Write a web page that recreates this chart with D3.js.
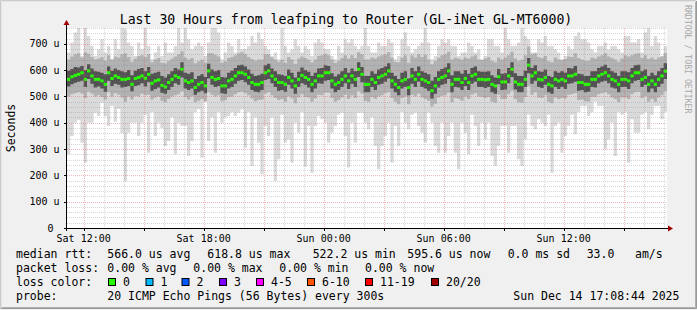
<!DOCTYPE html>
<html>
<meta charset="utf-8">
<title>Last 30 Hours from leafping to Router</title>
<script src="https://d3js.org/d3.v7.min.js"></script>
<style>
	body { margin: 0; background: #f0f0f0; }
	svg text { font-family: "DejaVu Sans Mono", monospace; fill: #000; }
</style>
<body>
<svg id="chart" width="697" height="310"></svg>

<script type="text/javascript">

/** DATA : 10 minute bins, Sat 11:10 -> Sun 17:10, values in microseconds **/

	var median = [565,575,580,584,590,565,597,578,565,565,559,546,590,568,578,572,565,565,568,546,568,572,578,569,584,550,559,563,542,536,
		553,565,578,572,603,559,553,559,534,546,553,540,597,572,565,568,540,540,559,565,578,590,590,584,572,553,546,546,553,590,
		597,578,565,553,553,546,572,559,540,565,580,572,565,546,559,578,578,590,590,559,546,553,565,578,559,578,565,603,584,546,
		546,565,553,572,578,584,597,559,546,534,559,565,534,578,565,584,565,559,553,522,540,565,572,578,597,546,565,565,553,568,
		553,578,584,565,565,563,565,546,540,575,555,555,578,603,555,546,546,565,619,578,590,565,563,572,546,540,565,559,565,559,
		578,578,584,553,553,546,546,565,565,578,584,590,578,565,559,546,565,565,559,578,590,590,565,572,546,559,546,565,578,596];

	var maxRtt = [667,705,743,760,654,760,730,692,654,679,717,667,692,641,717,679,760,755,705,692,654,705,679,760,692,641,667,692,654,705,
		667,667,692,760,705,760,717,679,692,705,692,654,705,760,760,743,641,667,705,692,667,717,679,679,692,730,705,743,717,692,
		679,654,667,641,760,692,667,679,717,692,667,692,679,654,705,717,705,679,679,654,641,692,667,717,705,717,692,679,692,760,
		692,667,667,705,692,692,717,705,641,654,717,743,692,667,679,692,705,760,705,641,654,692,717,705,717,692,692,654,667,667,
		705,692,667,679,641,654,717,717,692,692,667,760,717,692,692,705,760,730,717,667,667,717,705,730,692,692,679,667,641,654,
		692,679,730,743,717,717,705,679,667,692,692,705,679,692,692,679,667,730,730,705,705,717,667,743,760,692,730,705,654,692];

	var minRtt = [280,350,400,410,324,248,400,400,438,426,476,426,388,464,404,452,360,179,362,400,400,350,400,430,286,440,350,400,380,312,
		331,420,280,400,388,388,274,330,440,451,267,480,331,420,286,440,400,420,426,440,426,438,450,305,440,236,420,324,204,388,
		350,420,179,261,430,324,336,248,400,362,440,233,388,210,388,426,413,400,324,362,388,430,438,350,230,400,324,438,438,400,
		375,420,312,223,312,350,400,248,388,312,440,400,375,430,438,388,362,324,438,400,312,286,400,286,350,400,286,223,400,362,
		280,430,388,312,400,337,400,274,236,312,388,388,286,388,388,261,236,337,430,388,375,413,400,388,430,210,388,400,286,350,
		388,430,356,440,464,464,426,440,480,464,464,299,337,400,274,440,430,440,248,413,362,362,430,440,375,430,464,464,413,440];

	var p90 = [640,652,660,664,648,668,662,650,640,644,650,636,656,640,652,648,660,664,650,632,644,654,656,650,660,630,640,646,628,626,
		636,644,652,660,672,648,640,646,626,634,640,628,664,664,658,652,628,634,646,650,656,664,668,660,650,642,636,640,640,660,
		660,648,640,632,640,628,650,640,624,644,652,646,640,630,640,654,656,662,656,640,628,636,646,656,644,656,646,668,660,640,
		640,648,644,652,656,660,668,648,632,630,648,656,628,656,648,660,650,658,640,622,636,648,656,660,670,640,648,644,640,648,
		644,652,656,640,638,644,650,636,630,648,640,648,656,670,644,636,640,656,690,660,664,650,646,654,634,630,648,640,638,642,
		652,650,664,646,640,636,636,648,644,652,656,664,652,646,640,632,644,656,652,656,662,664,646,656,642,648,640,648,652,664];

	var p10 = [500,508,512,516,510,494,518,510,500,504,498,488,516,500,512,506,496,480,500,488,502,500,510,504,506,488,496,500,484,478,
		490,500,504,508,520,498,488,500,478,484,490,482,516,506,500,504,482,486,498,500,508,516,518,512,504,492,482,486,488,510,
		516,504,494,486,490,480,500,492,474,496,508,498,496,480,492,506,504,514,514,494,480,486,496,506,490,504,494,520,510,484,
		480,498,490,500,504,512,516,494,480,470,494,500,470,506,500,510,496,490,484,462,472,496,502,504,514,478,494,490,484,500,
		490,506,512,500,498,494,498,480,476,506,490,490,508,522,490,478,476,498,540,506,516,496,494,504,480,474,496,490,494,492,
		506,508,512,486,488,482,480,498,498,508,512,516,508,496,490,478,496,496,490,508,516,518,494,502,480,490,480,496,504,520];

	var p75 = [598,604,612,610,616,600,622,606,596,594,590,584,614,598,606,600,596,592,600,580,598,604,608,596,612,586,590,594,578,572,
		584,596,608,602,630,590,586,592,566,578,584,574,624,602,596,600,574,572,590,598,608,618,620,614,602,586,578,580,586,618,
		624,606,596,584,582,578,602,590,572,594,610,600,594,578,590,606,608,618,616,588,576,584,596,608,590,606,596,630,612,578,
		578,596,586,602,608,614,626,590,578,566,590,596,568,608,596,614,596,590,584,560,574,596,604,610,626,580,596,596,586,600,
		586,608,614,596,594,594,596,580,572,604,586,588,608,630,588,578,578,598,646,608,618,596,594,602,578,574,596,590,596,590,
		608,606,616,586,584,578,578,596,596,608,614,620,608,596,590,578,596,596,592,608,618,620,596,602,578,590,580,596,608,626];

	var p25 = [538,546,552,556,560,536,566,548,534,538,530,518,560,540,548,544,534,536,540,520,540,542,550,538,554,522,528,534,514,510,
		524,536,550,544,572,530,524,530,506,516,522,512,568,544,536,540,512,510,530,536,548,560,562,554,544,524,518,516,524,562,
		566,550,536,522,524,518,544,530,510,536,550,544,534,516,530,550,548,560,562,530,516,524,536,550,528,548,536,574,554,516,
		516,536,524,544,548,556,568,530,516,504,530,536,504,548,536,556,536,530,522,492,510,534,544,548,566,516,536,534,524,540,
		524,548,556,536,536,532,536,516,510,546,524,526,550,574,526,516,516,536,588,548,560,536,532,544,516,510,536,528,536,528,
		548,550,556,522,524,516,518,536,534,550,556,560,550,534,530,516,536,536,528,550,560,562,536,544,516,530,516,536,548,566];

	var yTicks = [0, 100, 200, 300, 400, 500, 600, 700];

	var rttStats = ["566.0 us avg", "618.8 us max", "522.2 us min", "595.6 us now", "0.0 ms sd", "33.0", "am/s"];
	var lossStats = ["0.00 % avg", "0.00 % max", "0.00 % min", "0.00 % now"];
	var lossLabels = ["0", "1", "2", "3", "4-5", "6-10", "11-19", "20/20"];
	var lossColors = ["#26ff00", "#00b8ff", "#0059ff", "#7e00ff", "#ff00ff", "#ff5500", "#ff0000", "#a10000"];

/** LAYOUT **/

	var W = 697, H = 310;
	var plotL = 67, plotR = 667, plotT = 28, plotB = 228;
	var rttX = [107.3, 207.3, 312.7, 407.3, 507.7, 586.7, 635];
	var lossX = [107.3, 193.3, 279.3, 365];
	var boxX = [108.5, 146, 182, 219.5, 256.5, 307.5, 365.5, 431.5];

	var t0 = new Date(2025, 11, 13, 11, 10);
	var t1 = new Date(2025, 11, 14, 17, 10);

	var x = d3.scaleTime().domain([t0, t1]).range([plotL, plotR]);
	var y = d3.scaleLinear().domain([0, 760]).range([plotB, plotT]);

	var bins = median.map(function(d, i) {
		return {t: d3.timeMinute.offset(t0, 10 * i), med: d, lo: minRtt[i], hi: maxRtt[i],
			p10: p10[i], p90: p90[i], p25: p25[i], p75: p75[i]};
	});
	// closing point so the last step reaches the right edge
	var stepBins = bins.concat([Object.assign({}, bins[bins.length - 1], {t: t1})]);

	var svg = d3.select("#chart");

	// background + frame shading
	svg.append("rect").attr("width", W).attr("height", H).attr("fill", "#f0f0f0");
	svg.append("path").attr("d", "M0.5,309V0.5H696").attr("fill", "none").attr("stroke", "#cbcbcb");
	svg.append("path").attr("d", "M1.5,308V1.5H695").attr("fill", "none").attr("stroke", "#e4e4e4");
	svg.append("path").attr("d", "M1,308.5H696.5V1").attr("fill", "none").attr("stroke", "#999999");
	svg.append("path").attr("d", "M2,307.5H695.5V2").attr("fill", "none").attr("stroke", "#b0b0b0");

	// canvas
	svg.append("rect").attr("x", plotL).attr("y", plotT).attr("width", plotR - plotL).attr("height", plotB - plotT)
		.attr("fill", "#ffffff");

	// smoke
	function band(lo, hi) {
		return d3.area().curve(d3.curveStepAfter)
			.x(function(d) { return x(d.t); })
			.y0(function(d) { return y(d[lo]); })
			.y1(function(d) { return y(d[hi]); });
	}
	svg.append("path").datum(stepBins).attr("d", band("lo", "hi")).attr("fill", "#dadada");
	svg.append("path").datum(stepBins).attr("d", band("p10", "p90")).attr("fill", "#b2b2b2");
	svg.append("path").datum(stepBins).attr("d", band("p25", "p75")).attr("fill", "#525252");

	// median (loss colour 0)
	svg.append("g").selectAll("rect").data(bins).enter().append("rect")
		.attr("x", function(d) { return x(d.t); })
		.attr("width", function(d) { return x(d3.timeMinute.offset(d.t, 10)) - x(d.t); })
		.attr("y", function(d) { return y(d.med) - 1.5; })
		.attr("height", 3)
		.attr("fill", lossColors[0]);

	// grid (drawn over the smoke, dotted)
	var grid = svg.append("g").attr("shape-rendering", "crispEdges").attr("stroke-dasharray", "1,1");
	var majorT = x.ticks(d3.timeHour.every(3)).map(Number);
	var mgridColor = "rgba(225,90,90,0.42)", gridColor = "rgba(128,128,128,0.32)";
	x.ticks(d3.timeHour.every(1)).forEach(function(t) {
		var px = Math.round(x(t)) + 0.5;
		var isMajor = majorT.indexOf(+t) >= 0;
		grid.append("line").attr("x1", px).attr("x2", px).attr("y1", plotT).attr("y2", plotB)
			.attr("stroke", isMajor ? mgridColor : gridColor);
	});
	d3.range(20, 761, 20).forEach(function(v) {
		var py = Math.round(y(v)) + 0.5;
		var isMajor = v % 100 == 0;
		grid.append("line").attr("x1", plotL).attr("x2", plotR).attr("y1", py).attr("y2", py)
			.attr("stroke", isMajor ? mgridColor : gridColor);
	});

	// axes
	var axes = svg.append("g").attr("shape-rendering", "crispEdges");
	axes.append("line").attr("x1", plotL - 0.5).attr("x2", plotL - 0.5).attr("y1", plotB + 3).attr("y2", plotT - 4)
		.attr("stroke", "#000");
	axes.append("line").attr("x1", plotL - 3).attr("x2", plotR + 2).attr("y1", plotB + 0.5).attr("y2", plotB + 0.5)
		.attr("stroke", "#000");
	majorT.forEach(function(t) {
		var px = Math.round(x(t)) + 0.5;
		axes.append("line").attr("x1", px).attr("x2", px).attr("y1", plotB).attr("y2", plotB + 3).attr("stroke", "#000");
	});
	yTicks.forEach(function(v) {
		var py = Math.round(y(v)) + 0.5;
		axes.append("line").attr("x1", plotL - 3).attr("x2", plotL).attr("y1", py).attr("y2", py).attr("stroke", "#000");
	});
	svg.append("path").attr("d", "M" + (plotL - 3.5) + "," + (plotT - 3) + "L" + (plotL - 0.5) + "," + (plotT - 8) + "L" + (plotL + 2.5) + "," + (plotT - 3) + "Z")
		.attr("fill", "#a10000");
	svg.append("path").attr("d", "M" + (plotR + 1) + "," + (plotB - 2.5) + "L" + (plotR + 6) + "," + (plotB + 0.5) + "L" + (plotR + 1) + "," + (plotB + 3.5) + "Z")
		.attr("fill", "#a10000");

	// y labels
	svg.append("g").selectAll("text").data(yTicks).enter().append("text")
		.attr("x", function(d) { return d == 0 ? 53.5 : 59.5; })
		.attr("y", function(d) { return y(d) + 3.5; })
		.attr("text-anchor", "end")
		.style("font-size", "10px")
		.text(function(d) { return d == 0 ? "0" : d + " u"; });

	// x labels
	var fmt = d3.timeFormat("%a %H:%M");
	svg.append("g").selectAll("text").data(x.ticks(d3.timeHour.every(6))).enter().append("text")
		.attr("x", function(d) { return x(d); })
		.attr("y", 241.5)
		.attr("text-anchor", "middle")
		.style("font-size", "10px")
		.text(function(d) { return fmt(d); });

	// title and axis title
	svg.append("text").attr("x", 346).attr("y", 23.5).attr("text-anchor", "middle")
		.style("font-size", "13.2px").text("Last 30 Hours from leafping to Router (GL-iNet GL-MT6000)");
	svg.append("text").attr("transform", "translate(15,128) rotate(-90)").attr("text-anchor", "middle")
		.style("font-size", "11.5px").text("Seconds");
	svg.append("text").attr("transform", "translate(685,5) rotate(90)")
		.style("font-size", "8.2px").style("fill", "#a8a8a8").text("RRDTOOL / TOBI OETIKER");

	// legend
	var lg = svg.append("g").style("font-size", "11.5px");
	lg.append("text").attr("x", 16).attr("y", 258).text("median rtt:");
	rttStats.forEach(function(s, i) { lg.append("text").attr("x", rttX[i]).attr("y", 258).text(s); });
	lg.append("text").attr("x", 16).attr("y", 272).text("packet loss:");
	lossStats.forEach(function(s, i) { lg.append("text").attr("x", lossX[i]).attr("y", 272).text(s); });
	lg.append("text").attr("x", 16).attr("y", 286).text("loss color:");
	lossLabels.forEach(function(s, i) {
		lg.append("rect").attr("x", boxX[i]).attr("y", 278.5).attr("width", 7).attr("height", 7)
			.attr("fill", lossColors[i]).attr("stroke", "#000");
		lg.append("text").attr("x", boxX[i] + 14.5).attr("y", 286).text(s);
	});
	lg.append("text").attr("x", 16).attr("y", 300).text("probe:");
	lg.append("text").attr("x", 107.3).attr("y", 300).text("20 ICMP Echo Pings (56 Bytes) every 300s");
	lg.append("text").attr("x", 513.3).attr("y", 300).text("Sun Dec 14 17:08:44 2025");

</script>
</body>
</html>
